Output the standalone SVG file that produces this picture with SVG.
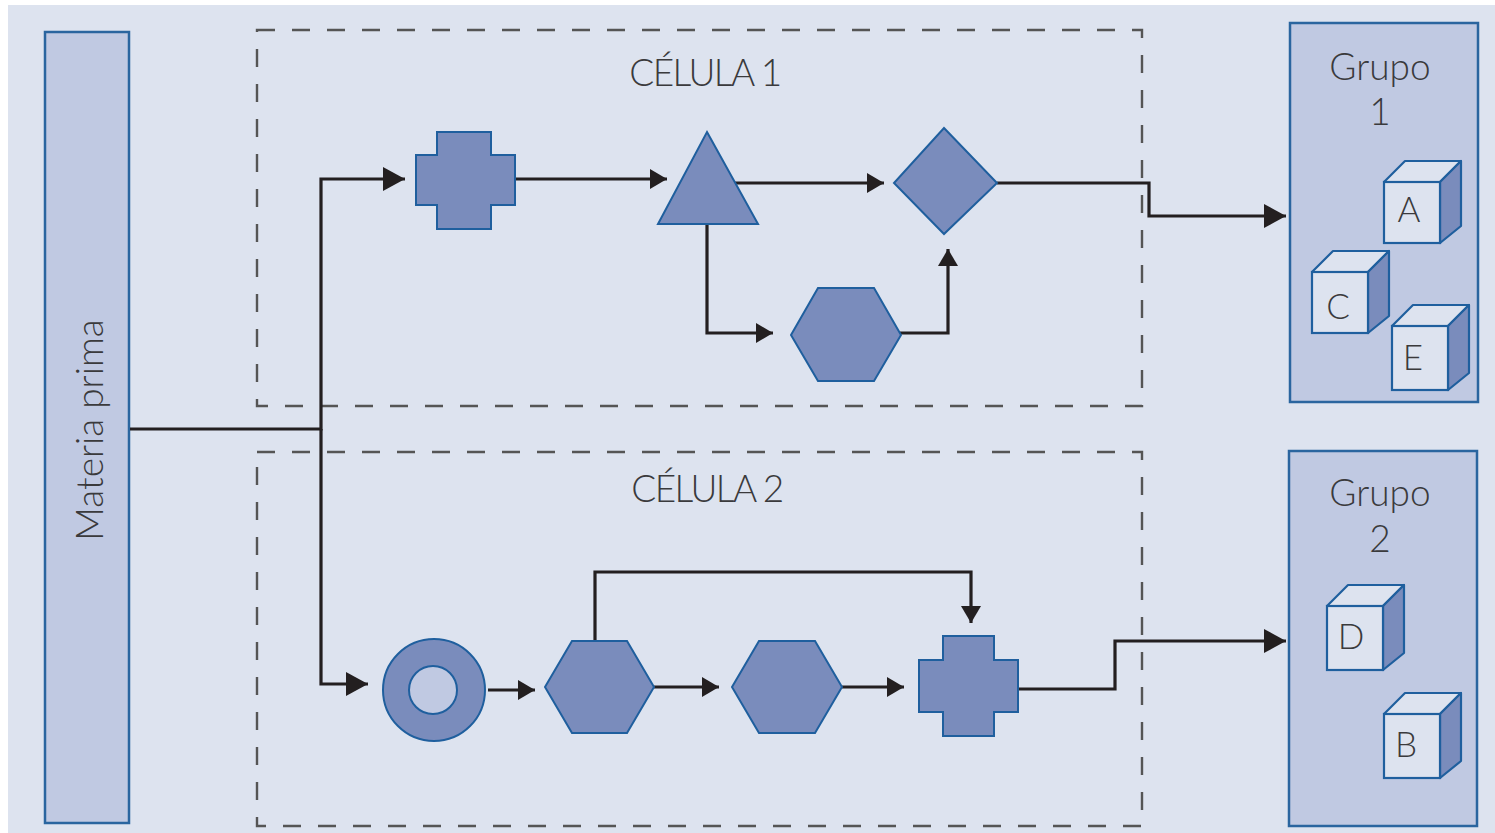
<svg xmlns="http://www.w3.org/2000/svg" width="1495" height="833" viewBox="0 0 1495 833">
<defs>
<marker id="a" markerUnits="userSpaceOnUse" markerWidth="26" markerHeight="26" refX="22" refY="12" orient="auto"><path d="M0 0L22 12L0 24Z" fill="#231f20"/></marker>
<marker id="s" markerUnits="userSpaceOnUse" markerWidth="22" markerHeight="22" refX="17" refY="10" orient="auto"><path d="M0 0L17 10L0 20Z" fill="#231f20"/></marker>
<g id="cube">
<path d="M0 0L21 -21H77L56 0Z" fill="#dde3ef" stroke="#1f5f9e" stroke-width="2.2" stroke-linejoin="round"/>
<path d="M56 0L77 -21V44L56 61Z" fill="#7a8cbc" stroke="#1f5f9e" stroke-width="2.2" stroke-linejoin="round"/>
<rect x="0" y="0" width="56" height="61" fill="#dde3ef" stroke="#1f5f9e" stroke-width="2.2"/>
</g>
<g id="cubeT">
<path d="M0 0L21 -21H77L56 0Z" fill="#dde3ef" stroke="#1f5f9e" stroke-width="2.2" stroke-linejoin="round"/>
<path d="M56 0L77 -21V47L56 64Z" fill="#7a8cbc" stroke="#1f5f9e" stroke-width="2.2" stroke-linejoin="round"/>
<rect x="0" y="0" width="56" height="64" fill="#dde3ef" stroke="#1f5f9e" stroke-width="2.2"/>
</g>
</defs>
<style>
.sh{fill:#7a8cbc;stroke:#1f5f9e;stroke-width:2}
.pn{fill:#c0c9e2;stroke:#2a659f;stroke-width:2.5}
.dash{fill:none;stroke:#555;stroke-width:2.4;stroke-dasharray:18 17}
.c{fill:none;stroke:#231f20;stroke-width:3.2}
text{font-family:"Lato","Liberation Sans",sans-serif;fill:#3a3a3c;font-weight:300}
.t{font-size:37px;text-anchor:middle}
.h{font-size:37px;text-anchor:middle;letter-spacing:-1.6px}
.l{font-size:35px;text-anchor:middle}
</style>
<rect x="8" y="5" width="1487" height="828" fill="#dde3ef"/>
<g id="materia"><rect class="pn" x="45" y="32" width="84" height="791"/><text class="t" transform="translate(103,430) rotate(-90)">Materia prima</text></g>
<g id="celula1"><rect class="dash" x="257" y="30" width="885" height="376"/><text class="h" x="705" y="86">CÉLULA 1</text></g>
<g id="celula2"><rect class="dash" x="257" y="452" width="885" height="374"/><text class="h" x="707" y="502">CÉLULA 2</text></g>
<g id="connectors">
<path class="c" d="M130 429H321V179H405" marker-end="url(#a)"/>
<path class="c" d="M321 429V684H368" marker-end="url(#a)"/>
<path class="c" d="M515 179H667" marker-end="url(#s)"/>
<path class="c" d="M735 183H884" marker-end="url(#s)"/>
<path class="c" d="M707 224V333H773" marker-end="url(#s)"/>
<path class="c" d="M900 333H948V249" marker-end="url(#s)"/>
<path class="c" d="M997 183H1149V216H1286" marker-end="url(#a)"/>
<path class="c" d="M488 690H535" marker-end="url(#s)"/>
<path class="c" d="M654 687H719" marker-end="url(#s)"/>
<path class="c" d="M842 687H904" marker-end="url(#s)"/>
<path class="c" d="M595 641V572H971V623" marker-end="url(#s)"/>
<path class="c" d="M1018 689H1115V641H1286" marker-end="url(#a)"/>
</g>
<g id="cruz1"><path class="sh" d="M437 132H491V155H515V205H491V229H437V205H416V155H437Z"/></g>
<g id="triangulo"><path class="sh" d="M707 132L758 224H658Z"/></g>
<g id="rombo"><path class="sh" d="M944 128L997 183L944 234L894 183Z"/></g>
<g id="hex1"><path class="sh" d="M818 288H874L901 335L874 381H818L791 335Z"/></g>
<g id="anillo"><circle class="sh" cx="434" cy="690" r="51"/><circle cx="433" cy="690" r="24" fill="#c0c9e2" stroke="#1f5f9e" stroke-width="2"/></g>
<g id="hex2"><path class="sh" d="M572 641H627L654 687L627 733H572L545 687Z"/></g>
<g id="hex3"><path class="sh" d="M759 641H815L842 687L815 733H759L732 687Z"/></g>
<g id="cruz2"><path class="sh" d="M943 636H994V660H1018V712H994V736H943V712H919V660H943Z"/></g>
<g id="grupo1"><rect class="pn" x="1290" y="23" width="188" height="379"/><text class="t" x="1380" y="80">Grupo</text><text class="t" x="1380" y="125">1</text>
<use href="#cube" x="1384" y="182"/><text class="l" x="1409" y="222">A</text>
<use href="#cube" x="1312" y="272"/><text class="l" x="1338" y="319">C</text>
<use href="#cubeT" x="1392" y="326"/><text class="l" x="1413" y="370">E</text></g>
<g id="grupo2"><rect class="pn" x="1289" y="451" width="188" height="375"/><text class="t" x="1380" y="506">Grupo</text><text class="t" x="1380" y="552">2</text>
<use href="#cubeT" x="1327" y="606"/><text class="l" x="1351" y="649">D</text>
<use href="#cubeT" x="1384" y="714"/><text class="l" x="1406" y="757">B</text></g>
</svg>
